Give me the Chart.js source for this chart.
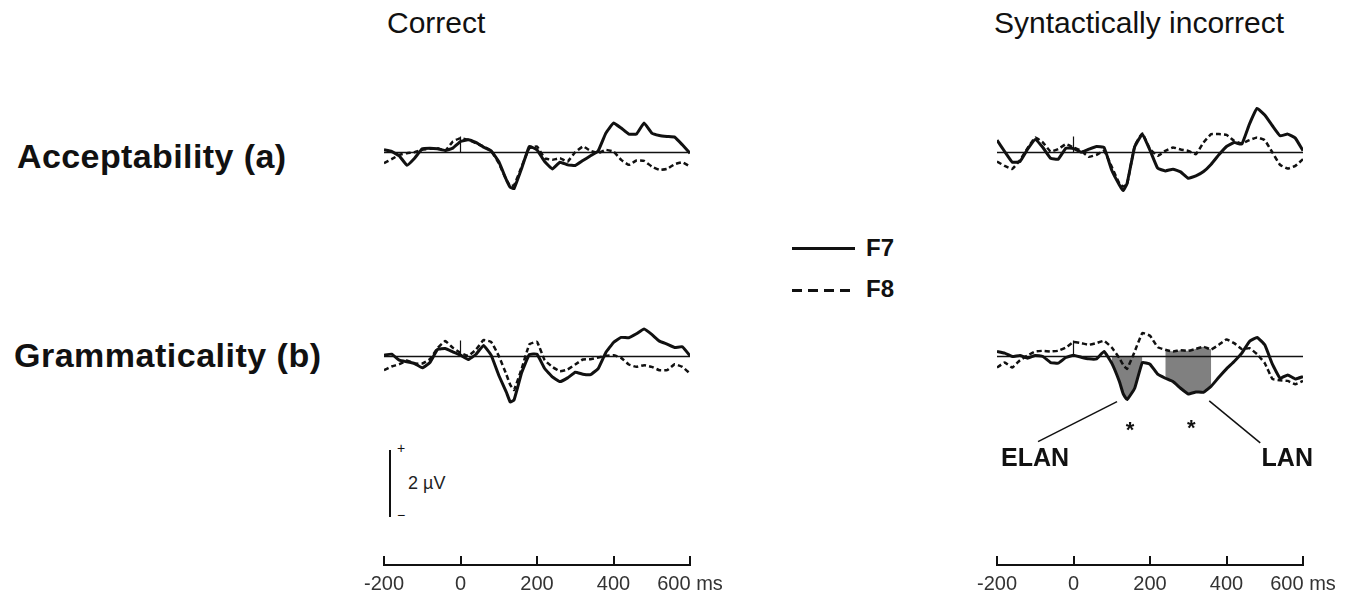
<!DOCTYPE html>
<html lang="en">
<head>
<meta charset="utf-8">
<title>F7 / F8 ERP waveforms</title>
<script src="https://cdn.jsdelivr.net/npm/chart.js@4.4.1/dist/chart.umd.min.js"></script>
<style>
  body { margin: 0; background: #fff; font-family: 'Liberation Sans', Arial, sans-serif; color: #111; }
  #page { position: relative; width: 1355px; height: 599px; overflow: hidden; }
  .t { position: absolute; white-space: nowrap; line-height: 1; }
  canvas { position: absolute; }
</style>
<script>
// time points in ms
var times = [-200, -180, -160, -140, -120, -100, -80, -60, -40, -20, 0, 20, 40, 60, 80, 100, 120, 130,
             140, 160, 180, 200, 220, 240, 260, 280, 300, 320, 340, 360, 380, 400, 420, 440, 460, 480,
             500, 520, 540, 560, 580, 600];

// amplitudes in microvolts, positive up
var accCorrectF7 = [0.08, 0.03, -0.10, -0.38, -0.17, 0.11, 0.13, 0.11, 0.06, 0.13, 0.33, 0.38, 0.30, 0.16, 0.05, -0.27, -0.82, -1.04,
                    -1.08, -0.47, 0.18, 0.08, -0.27, -0.49, -0.29, -0.37, -0.39, -0.24, -0.10, 0.05, 0.58, 0.88, 0.73, 0.55, 0.55, 0.88,
                    0.58, 0.51, 0.48, 0.46, 0.23, -0.02];
var accCorrectF8 = [-0.32, -0.20, -0.07, -0.02, 0.01, 0.08, 0.11, 0.13, 0.05, 0.33, 0.43, 0.38, 0.28, 0.18, 0.05, -0.32, -0.82, -1.00,
                    -0.98, -0.42, 0.13, 0.18, -0.17, -0.22, -0.17, -0.27, 0.01, 0.18, 0.05, -0.02, 0.08, 0.03, -0.22, -0.37, -0.24, -0.25,
                    -0.42, -0.52, -0.49, -0.35, -0.29, -0.42];
var accIncorrectF7 = [0.37, 0.03, -0.29, -0.27, 0.10, 0.39, 0.15, -0.17, -0.20, 0.13, 0.12, 0.01, 0.10, 0.18, 0.15, -0.53, -0.97, -1.14,
                      -0.93, 0.17, 0.55, 0.07, -0.47, -0.55, -0.50, -0.58, -0.77, -0.70, -0.57, -0.35, -0.07, 0.18, 0.30, 0.25, 0.85, 1.32,
                      1.12, 0.80, 0.50, 0.55, 0.43, 0.05];
var accIncorrectF8 = [-0.27, -0.40, -0.49, -0.23, 0.13, 0.45, 0.30, 0.03, 0.10, 0.25, 0.15, 0.05, -0.13, -0.07, 0.05, -0.43, -0.93, -1.02,
                      -0.95, 0.20, 0.57, 0.10, -0.10, 0.05, 0.15, 0.09, 0.05, -0.05, 0.30, 0.55, 0.55, 0.53, 0.35, 0.27, 0.37, 0.45,
                      0.37, 0.00, -0.37, -0.48, -0.40, -0.20];
var gramCorrectF7 = [0.04, 0.07, -0.11, -0.16, -0.21, -0.34, -0.18, 0.21, 0.24, 0.14, 0.04, -0.09, 0.06, 0.33, 0.04, -0.56, -1.07, -1.36,
                     -1.30, -0.48, 0.06, 0.07, -0.36, -0.61, -0.75, -0.64, -0.47, -0.53, -0.54, -0.36, 0.12, 0.42, 0.57, 0.56, 0.68, 0.82,
                     0.66, 0.46, 0.37, 0.27, 0.29, 0.02];
var gramCorrectF8 = [-0.41, -0.30, -0.23, -0.12, -0.21, -0.21, -0.08, 0.25, 0.46, 0.26, 0.11, 0.02, 0.20, 0.49, 0.44, 0.02, -0.54, -0.85,
                     -1.00, -0.36, 0.36, 0.44, -0.11, -0.31, -0.44, -0.39, -0.24, -0.09, -0.08, -0.03, 0.02, 0.04, -0.04, -0.24, -0.31, -0.26,
                     -0.31, -0.41, -0.41, -0.23, -0.31, -0.51];
var gramIncorrectF7 = [0.15, 0.10, 0.00, 0.03, -0.05, 0.03, 0.00, -0.18, -0.20, -0.03, 0.04, -0.02, -0.07, -0.07, 0.15, -0.20, -0.75, -1.12,
                       -1.29, -0.95, -0.18, -0.23, -0.53, -0.65, -0.75, -0.95, -1.12, -1.06, -1.07, -0.89, -0.62, -0.37, -0.15, 0.10, 0.45, 0.57,
                       0.35, -0.23, -0.65, -0.55, -0.67, -0.60];
var gramIncorrectF8 = [-0.33, -0.18, -0.33, -0.11, 0.03, 0.15, 0.17, 0.15, 0.17, 0.27, 0.43, 0.40, 0.35, 0.40, 0.47, 0.27, -0.05, -0.25,
                       -0.37, 0.15, 0.70, 0.62, 0.28, 0.20, 0.15, 0.19, 0.17, 0.23, 0.29, 0.21, 0.35, 0.51, 0.40, 0.22, 0.25, 0.07,
                       -0.20, -0.67, -0.71, -0.73, -0.83, -0.73];

// significant windows (ms)
var elanWindow = [100, 180];
var lanWindow = [240, 360];

var xTicks = [-200, 0, 200, 400, 600];
var xTickLabels = ['-200', '0', '200', '400', '600 ms'];
</script>
</head>
<body>
<div id="page">
  <div class="t" style="left:387px;top:8px;font-size:30px;">Correct</div>
  <div class="t" style="left:994px;top:8px;font-size:30px;">Syntactically incorrect</div>

  <div class="t" style="left:17px;top:139px;font-size:34px;font-weight:bold;letter-spacing:0.4px;">Acceptability (a)</div>
  <div class="t" style="left:14px;top:338px;font-size:34px;font-weight:bold;letter-spacing:0.5px;">Grammaticality (b)</div>

  <!-- legend -->
  <div style="position:absolute;left:792px;top:247px;width:63px;height:3px;background:#111;"></div>
  <div class="t" style="left:866px;top:236px;font-size:24px;font-weight:bold;">F7</div>
  <div style="position:absolute;left:792px;top:289px;width:58px;height:3px;background:repeating-linear-gradient(to right,#111 0 10px,transparent 10px 16px);"></div>
  <div class="t" style="left:866px;top:277px;font-size:24px;font-weight:bold;">F8</div>

  <!-- amplitude scale bar -->
  <div style="position:absolute;left:389px;top:450px;width:2px;height:67px;background:#111;"></div>
  <div class="t" style="left:397px;top:441px;font-size:14px;">+</div>
  <div class="t" style="left:397px;top:508px;font-size:14px;">&minus;</div>
  <div class="t" style="left:408px;top:474px;font-size:18px;color:#222;">2 &micro;V</div>

  <canvas id="accCorrect" width="326" height="127" style="left:374px;top:89px;"></canvas>
  <canvas id="accIncorrect" width="326" height="127" style="left:987px;top:89px;"></canvas>
  <canvas id="gramCorrect" width="326" height="127" style="left:374px;top:293px;"></canvas>
  <canvas id="gramIncorrect" width="346" height="237" style="left:987px;top:293px;"></canvas>

  <canvas id="axisCorrect" width="376" height="53" style="left:354px;top:552px;"></canvas>
  <canvas id="axisIncorrect" width="376" height="53" style="left:967px;top:552px;"></canvas>
</div>

<script>
var INK = '#111';
var SHADE = '#808080';
var TENSION = 0.1;

function pts(values, win) {
  var out = [];
  for (var i = 0; i < times.length; i++) {
    if (win && (times[i] < win[0] || times[i] > win[1])) continue;
    out.push({ x: times[i], y: values[i] });
  }
  return out;
}

// small vertical mark at stimulus onset
var onsetMarker = {
  id: 'onsetMarker',
  afterDatasetsDraw: function (chart) {
    var ctx = chart.ctx;
    var px = chart.scales.x.getPixelForValue(0);
    var py = chart.scales.y.getPixelForValue(0);
    ctx.save();
    ctx.strokeStyle = INK;
    ctx.lineWidth = 1.2;
    ctx.beginPath();
    ctx.moveTo(px, py);
    ctx.lineTo(px, py - 16);
    ctx.stroke();
    ctx.restore();
  }
};

function minIndex(values, win) {
  var best = -1;
  for (var i = 0; i < times.length; i++) {
    if (times[i] < win[0] || times[i] > win[1]) continue;
    if (best < 0 || values[i] < values[best]) best = i;
  }
  return best;
}

// ELAN / LAN labels with pointer lines and asterisks
var componentLabels = {
  id: 'componentLabels',
  afterDatasetsDraw: function (chart) {
    var ctx = chart.ctx, xs = chart.scales.x, ys = chart.scales.y;
    function anchor(win) {
      var i = minIndex(gramIncorrectF7, win);
      return { x: xs.getPixelForValue(times[i]), y: ys.getPixelForValue(gramIncorrectF7[i]) };
    }
    function mark(a, name, l0, l1, txt, star) {
      ctx.beginPath();
      ctx.moveTo(a.x + l0[0], a.y + l0[1]);
      ctx.lineTo(a.x + l1[0], a.y + l1[1]);
      ctx.stroke();
      ctx.font = 'bold 25px "Liberation Sans", Arial, sans-serif';
      ctx.textAlign = 'center';
      ctx.textBaseline = 'middle';
      ctx.fillText(name, a.x + txt[0], a.y + txt[1]);
      ctx.font = 'bold 22px "Liberation Sans", Arial, sans-serif';
      ctx.textBaseline = 'alphabetic';
      ctx.fillText('*', a.x + star[0], a.y + star[1] + 12);
    }
    ctx.save();
    ctx.strokeStyle = INK;
    ctx.fillStyle = INK;
    ctx.lineWidth = 1.5;
    mark(anchor(elanWindow), 'ELAN', [-10, 2], [-89, 42], [-92, 59], [3, 25]);
    mark(anchor(lanWindow), 'LAN', [21, 7], [72, 49], [99, 65], [3, 29]);
    ctx.restore();
  }
};

function panel(id, f7, f8, opts) {
  opts = opts || {};
  var datasets = [
    { label: 'F7', data: pts(f7), borderColor: INK, borderWidth: 3, tension: TENSION },
    { label: 'F8', data: pts(f8), borderColor: INK, borderWidth: 2.5, borderDash: [5, 3], tension: TENSION },
    { label: 'baseline', data: [{ x: -200, y: 0 }, { x: 600, y: 0 }], borderColor: INK, borderWidth: 1.5 }
  ];
  if (opts.shade) {
    datasets.push({ label: 'LAN F8', data: pts(f8, lanWindow), borderColor: 'rgba(0,0,0,0)', tension: TENSION, fill: false });
    datasets.push({ label: 'LAN', data: pts(f7, lanWindow), borderColor: 'rgba(0,0,0,0)', backgroundColor: SHADE, tension: TENSION, fill: '-1' });
    datasets.push({ label: 'ELAN', data: pts(f7, elanWindow), borderColor: 'rgba(0,0,0,0)', backgroundColor: SHADE, tension: TENSION, fill: 'origin' });
  }
  return new Chart(document.getElementById(id), {
    type: 'line',
    data: { datasets: datasets },
    plugins: opts.plugins || [onsetMarker],
    options: {
      responsive: false,
      animation: false,
      devicePixelRatio: 1,
      layout: { padding: { left: 10, right: opts.padRight || 10, top: 10, bottom: opts.padBottom || 10 } },
      elements: { point: { radius: 0 }, line: { fill: false } },
      scales: {
        x: { type: 'linear', min: -200, max: 600, display: false },
        y: { min: -1.6, max: 1.6, display: false }
      },
      plugins: { legend: { display: false }, tooltip: { enabled: false } }
    }
  });
}

function axis(id) {
  return new Chart(document.getElementById(id), {
    type: 'line',
    data: { datasets: [] },
    options: {
      responsive: false,
      animation: false,
      devicePixelRatio: 1,
      layout: { padding: { left: 30, right: 40, top: 4, bottom: 0 } },
      scales: {
        x: {
          type: 'linear', position: 'bottom', min: -200, max: 600,
          afterBuildTicks: function (s) { s.ticks = xTicks.map(function (v) { return { value: v }; }); },
          afterFit: function (s) { s.height = 40; },
          ticks: {
            autoSkip: false, maxRotation: 0, padding: 7, color: '#333',
            font: { family: '"Liberation Sans Narrow", "Liberation Sans", Arial, sans-serif', size: 20 },
            callback: function (v, i) { return xTickLabels[i]; }
          },
          grid: { drawOnChartArea: true, drawTicks: false, color: INK, lineWidth: 2 },
          border: { display: true, color: INK, width: 2 }
        },
        y: { display: false, min: 0, max: 1 }
      },
      plugins: { legend: { display: false }, tooltip: { enabled: false } }
    }
  });
}

panel('accCorrect', accCorrectF7, accCorrectF8);
panel('accIncorrect', accIncorrectF7, accIncorrectF8);
panel('gramCorrect', gramCorrectF7, gramCorrectF8);
panel('gramIncorrect', gramIncorrectF7, gramIncorrectF8,
      { shade: true, padBottom: 120, padRight: 30, plugins: [onsetMarker, componentLabels] });
axis('axisCorrect');
axis('axisIncorrect');
</script>
</body>
</html>
